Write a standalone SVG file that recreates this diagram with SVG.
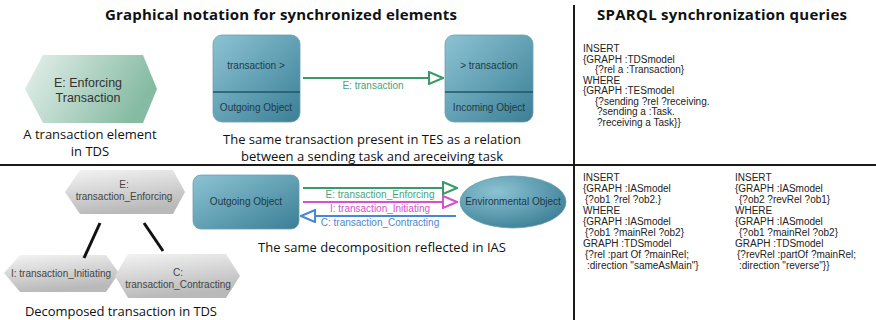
<svg xmlns="http://www.w3.org/2000/svg" width="876" height="320" viewBox="0 0 876 320">
<defs>
<linearGradient id="gGreen" x1="0" y1="0" x2="1" y2="0.3">
<stop offset="0" stop-color="#e6f1ec"/><stop offset="1" stop-color="#86bba3"/>
</linearGradient>
<linearGradient id="gGray" x1="0" y1="0" x2="0.3" y2="1">
<stop offset="0" stop-color="#f4f4f4"/><stop offset="1" stop-color="#b9b9b9"/>
</linearGradient>
<linearGradient id="gTeal" x1="0" y1="0" x2="1" y2="1">
<stop offset="0" stop-color="#8cc3d3"/><stop offset="1" stop-color="#3b7f96"/>
</linearGradient>
<radialGradient id="gEll" cx="0.35" cy="0.3" r="0.8">
<stop offset="0" stop-color="#8cc3d3"/><stop offset="1" stop-color="#3a7d94"/>
</radialGradient>
<marker id="mGreen" markerWidth="16" markerHeight="14" refX="15" refY="7" orient="auto" markerUnits="userSpaceOnUse">
<path d="M1,1 L15,7 L1,13 Z" fill="#fff" stroke="#3a9a6a" stroke-width="2"/>
</marker>
<marker id="mPink" markerWidth="16" markerHeight="14" refX="15" refY="7" orient="auto" markerUnits="userSpaceOnUse">
<path d="M1,1 L15,7 L1,13 Z" fill="#fff" stroke="#d452cc" stroke-width="2"/>
</marker>
<marker id="mBlue" markerWidth="16" markerHeight="14" refX="15" refY="7" orient="auto" markerUnits="userSpaceOnUse">
<path d="M1,1 L15,7 L1,13 Z" fill="#fff" stroke="#4a86d6" stroke-width="2"/>
</marker>
</defs>
<style>
.title{font-family:"Open Sans","Liberation Sans",sans-serif;font-weight:bold;font-size:15px;fill:#111}
.cap{font-family:"Open Sans","Liberation Sans",sans-serif;font-size:13px;fill:#111}
.q{font-family:"Liberation Sans",Arial,sans-serif;font-size:10px;fill:#222}
.nt{font-family:"Liberation Sans",Arial,sans-serif;font-size:10px;fill:#1d3b48}
.ht{font-family:"Liberation Sans",Arial,sans-serif;font-size:12.5px;fill:#333}
.gt{font-family:"Liberation Sans",Arial,sans-serif;font-size:10px;fill:#444}
.box{fill:url(#gTeal);stroke:#6a9fb0;stroke-width:0.8}
.div{stroke:#1a1a1a;stroke-width:2}
</style>
<rect width="876" height="320" fill="#fff"/>

<g id="dividers">
<line class="div" x1="574" y1="5" x2="574" y2="320"/>
<line class="div" x1="0" y1="165" x2="876" y2="165"/>
</g>

<text class="title" x="281" y="20" text-anchor="middle" textLength="352">Graphical notation for synchronized elements</text>
<text class="title" x="722" y="20" text-anchor="middle" textLength="250">SPARQL synchronization queries</text>

<g id="hexE">
<polygon points="25,89 43,55 143,55 157,89 143,123 43,123" fill="url(#gGreen)"/>
<text class="ht" x="88" y="87" text-anchor="middle">E: Enforcing</text>
<text class="ht" x="88" y="102" text-anchor="middle">Transaction</text>
</g>
<text class="cap" x="90" y="139" text-anchor="middle">A transaction element</text>
<text class="cap" x="90" y="156" text-anchor="middle">in TDS</text>

<g id="outgoing1">
<rect class="box" x="213" y="35" width="87" height="87" rx="9"/>
<line x1="213" y1="92" x2="300" y2="92" stroke="#1f5668" stroke-width="1.5"/>
<text class="nt" x="256" y="69" text-anchor="middle">transaction &gt;</text>
<text class="nt" x="256" y="111" text-anchor="middle">Outgoing Object</text>
</g>
<g id="incoming1">
<rect class="box" x="445" y="35" width="88" height="87" rx="9"/>
<line x1="445" y1="92" x2="533" y2="92" stroke="#1f5668" stroke-width="1.5"/>
<text class="nt" x="489" y="69" text-anchor="middle">&gt; transaction</text>
<text class="nt" x="489" y="111" text-anchor="middle">Incoming Object</text>
</g>
<text class="cap" x="372" y="144" text-anchor="middle" textLength="298">The same transaction present in TES as a relation</text>
<text class="cap" x="372" y="161" text-anchor="middle" textLength="262">between  a sending task and areceiving task</text>

<g id="queries1">
<text class="q" x="583" y="52">INSERT</text>
<text class="q" x="583" y="62.5">{GRAPH :TDSmodel</text>
<text class="q" x="595" y="73">{?rel a :Transaction}</text>
<text class="q" x="583" y="83.5">WHERE</text>
<text class="q" x="583" y="94">{GRAPH :TESmodel</text>
<text class="q" x="595" y="104.5">{?sending ?rel ?receiving.</text>
<text class="q" x="597" y="115">?sending a :Task.</text>
<text class="q" x="597" y="125.5">?receiving a Task}}</text>
</g>

<g id="hexTop">
<polygon points="65,192 80,170 173,170 185,192 173,214 80,214" fill="url(#gGray)"/>
<text class="gt" x="124" y="188" text-anchor="middle">E:</text>
<text class="gt" x="124" y="200" text-anchor="middle">transaction_Enforcing</text>
</g>
<g id="hexI">
<polygon points="4,273 20,255 106,255 119,273 106,292 20,292" fill="url(#gGray)"/>
<text class="gt" x="61" y="277" text-anchor="middle">I: transaction_Initiating</text>
</g>
<g id="hexC">
<polygon points="115,276 128,254 226,254 240,276 226,298 128,298" fill="url(#gGray)"/>
<text class="gt" x="178" y="276" text-anchor="middle">C:</text>
<text class="gt" x="178" y="288" text-anchor="middle">transaction_Contracting</text>
</g>
<text class="cap" x="121" y="316" text-anchor="middle" textLength="192">Decomposed transaction in TDS</text>

<g id="outgoing2">
<rect class="box" x="193" y="175" width="106" height="54" rx="8"/>
<text class="nt" x="246" y="205" text-anchor="middle">Outgoing Object</text>
</g>
<g id="environmental">
<ellipse cx="513" cy="202" rx="53" ry="26" fill="url(#gEll)" stroke="#6a9fb0" stroke-width="0.8"/>
<text class="nt" x="513" y="205" text-anchor="middle">Environmental Object</text>
</g>
<text class="cap" x="382" y="252" text-anchor="middle" textLength="248">The same decomposition reflected in IAS</text>

<g id="connectors">
<line x1="303" y1="78" x2="443" y2="78" stroke="#3a9a6a" stroke-width="2" marker-end="url(#mGreen)"/>
<text class="nt" x="373" y="89" text-anchor="middle" style="fill:#4aa37a">E: transaction</text>
<line x1="100" y1="223" x2="84" y2="258" stroke="#111" stroke-width="3"/>
<line x1="144" y1="223" x2="163" y2="251" stroke="#111" stroke-width="3"/>
<line x1="303" y1="188" x2="457" y2="188" stroke="#3a9a6a" stroke-width="2" marker-end="url(#mGreen)"/>
<text class="nt" x="380" y="198" text-anchor="middle" style="fill:#4aa37a">E: transaction_Enforcing</text>
<line x1="303" y1="202" x2="457" y2="202" stroke="#d452cc" stroke-width="2" marker-end="url(#mPink)"/>
<text class="nt" x="380" y="211.5" text-anchor="middle" style="fill:#d452cc">I: transaction_Initiating</text>
<line x1="456" y1="216" x2="301" y2="216" stroke="#4a86d6" stroke-width="2" marker-end="url(#mBlue)"/>
<text class="nt" x="380" y="225.5" text-anchor="middle" style="fill:#4a86d6">C: transaction_Contracting</text>
</g>

<g id="queries2">
<text class="q" x="583" y="181">INSERT</text>
<text class="q" x="583" y="192">{GRAPH :IASmodel</text>
<text class="q" x="585" y="203">{?ob1 ?rel ?ob2.}</text>
<text class="q" x="583" y="214">WHERE</text>
<text class="q" x="583" y="225">{GRAPH :IASmodel</text>
<text class="q" x="585" y="236">{?ob1 ?mainRel ?ob2}</text>
<text class="q" x="583" y="247">GRAPH :TDSmodel</text>
<text class="q" x="585" y="258">{?rel :part Of ?mainRel;</text>
<text class="q" x="587" y="269">:direction "sameAsMain"}</text>
<text class="q" x="735" y="181">INSERT</text>
<text class="q" x="735" y="192">{GRAPH :IASmodel</text>
<text class="q" x="739" y="203">{?ob2 ?revRel ?ob1}</text>
<text class="q" x="735" y="214">WHERE</text>
<text class="q" x="735" y="225">{GRAPH :IASmodel</text>
<text class="q" x="739" y="236">{?ob1 ?mainRel ?ob2}</text>
<text class="q" x="735" y="247">GRAPH :TDSmodel</text>
<text class="q" x="737" y="258">{?revRel :partOf ?mainRel;</text>
<text class="q" x="739" y="269">:direction "reverse"}}</text>
</g>
</svg>
